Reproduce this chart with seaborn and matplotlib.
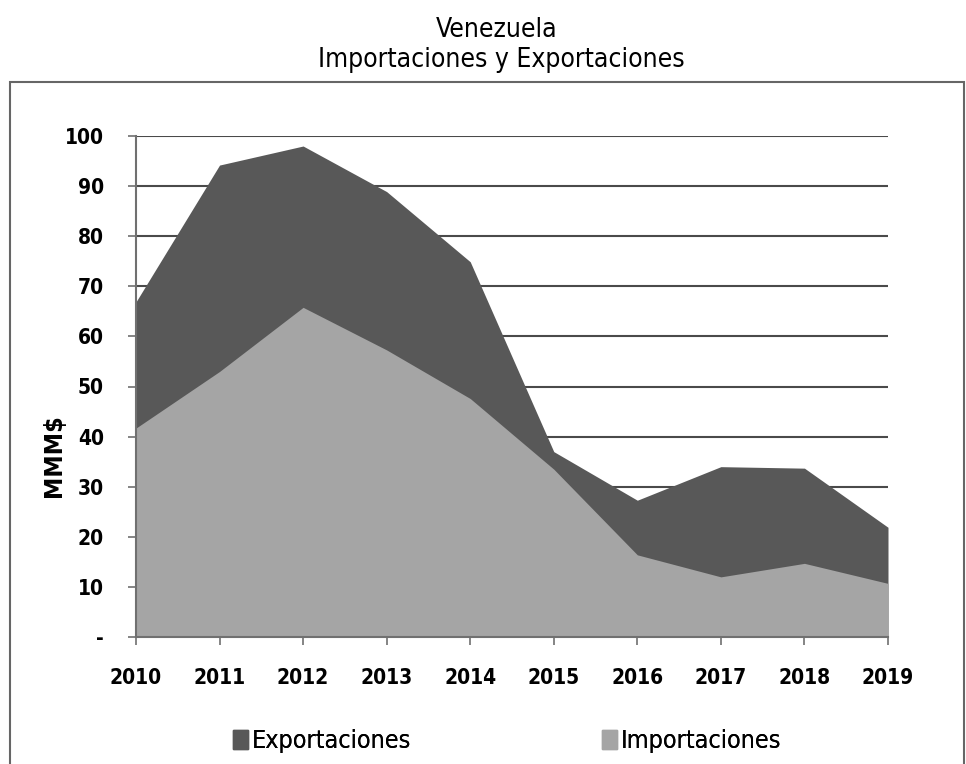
import matplotlib
matplotlib.use("Agg")
import matplotlib.pyplot as plt
import matplotlib.patches as mpatches
import pandas as pd
import seaborn as sns

years = [2010, 2011, 2012, 2013, 2014, 2015, 2016, 2017, 2018, 2019]
exportaciones = [66.9, 94.2, 98.0, 88.9, 74.9, 37.0, 27.3, 34.0, 33.7, 21.9]
importaciones = [41.7, 53.0, 65.8, 57.3, 47.6, 33.5, 16.4, 12.0, 14.7, 10.7]
yticks = [0, 10, 20, 30, 40, 50, 60, 70, 80, 90, 100]
ytick_labels = ["-", "10", "20", "30", "40", "50", "60", "70", "80", "90", "100"]

df = pd.DataFrame({"year": years, "Exportaciones": exportaciones, "Importaciones": importaciones})

sns.set_style("white")
plt.rcParams["font.family"] = ["DejaVu Sans"]
plt.rcParams["font.stretch"] = "condensed"
plt.rcParams["text.color"] = "black"

dark = "#585858"
light = "#a5a5a5"

fig = plt.figure(figsize=(9.66, 7.64), dpi=100)
ax = fig.add_axes([136 / 966, 1 - 637 / 764, 752 / 966, 501 / 764])

# area chart: exports behind, imports in front (not stacked)
sns.lineplot(data=df, x="year", y="Exportaciones", ax=ax, color=dark, lw=0)
ax.fill_between(df["year"], df["Exportaciones"], color=dark, lw=0, zorder=2)
sns.lineplot(data=df, x="year", y="Importaciones", ax=ax, color=light, lw=0)
ax.fill_between(df["year"], df["Importaciones"], color=light, lw=0, zorder=3)

ax.set_xlim(2010, 2019)
ax.set_ylim(0, 100)
ax.set_xticks(years)
ax.set_xticklabels([str(y) for y in years], fontsize=15, fontweight="bold", color="black")
ax.set_yticks(yticks)
ax.set_yticklabels(ytick_labels, fontsize=15, fontweight="bold", color="black")
ax.set_xlabel("")
ax.set_ylabel("MMM$", fontsize=18, fontweight="bold", color="black", va="center")
ax.yaxis.set_label_coords(-0.109, 0.363)

for y in yticks[1:]:
    ax.axhline(y, color="#4a4a4a", lw=1.5, zorder=1)

sns.despine(ax=ax, top=True, right=True)
for s in ["left", "bottom"]:
    ax.spines[s].set_color("#707070")
    ax.spines[s].set_linewidth(1.5)
    ax.spines[s].set_zorder(5)
ax.tick_params(axis="both", direction="out", length=6, width=1.2, color="#707070",
               bottom=True, left=True)
ax.tick_params(axis="x", pad=16)
ax.tick_params(axis="y", pad=17)
ax.set_facecolor("white")

fig.text(497 / 966, 1 - 30 / 764, "Venezuela", ha="center", va="center", fontsize=19)
fig.text(501 / 966, 1 - 60 / 764, "Importaciones y Exportaciones", ha="center", va="center", fontsize=19)

border = mpatches.Rectangle((10 / 966, -0.05), 954 / 966, 0.05 + 1 - 82 / 764,
                            transform=fig.transFigure, fill=False, ec="#666666", lw=1.5)
fig.patches.append(border)

for label, col, x0 in [("Exportaciones", dark, 233), ("Importaciones", light, 602)]:
    leg = fig.legend(handles=[mpatches.Patch(color=col, label=label)], loc="center left",
                     bbox_to_anchor=(x0 / 966, 1 - 741 / 764), frameon=False, fontsize=18,
                     handlelength=0.6, handleheight=0.8, handletextpad=0.15,
                     borderpad=0, borderaxespad=0)
    fig.add_artist(leg)

fig.savefig("out.png", dpi=100)
